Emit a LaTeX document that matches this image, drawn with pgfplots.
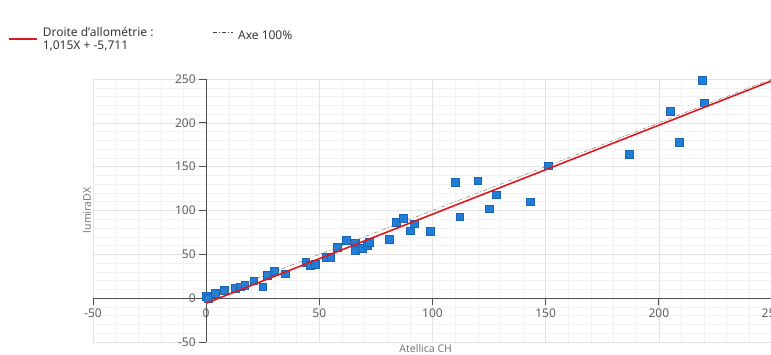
\documentclass[border=0pt]{standalone}
\usepackage{fontspec}
\setmainfont{Noto Sans}
\usepackage{pgfplots}
\pgfplotsset{compat=1.18}
\definecolor{ptblue}{RGB}{32,126,214}
\definecolor{ptblueedge}{RGB}{25,100,180}
\definecolor{regred}{RGB}{222,24,30}
\definecolor{axisgray}{RGB}{80,80,80}
\definecolor{labelgray}{RGB}{95,95,95}
\definecolor{namegray}{RGB}{120,120,120}
\definecolor{legendgray}{RGB}{55,55,55}
\definecolor{gridmajor}{RGB}{226,226,226}
\definecolor{gridminor}{RGB}{242,242,242}
\definecolor{diaggray}{RGB}{130,120,115}
\pgfplotsset{
  redleg/.style={legend image code/.code={\draw[regred, line width=1.6pt] (0pt,0pt) -- (28pt,0pt);}},
  grayleg/.style={legend image code/.code={\draw[black!75, line width=0.6pt, dash pattern=on 4pt off 2pt on 1pt off 2pt] (0pt,7pt) -- (20pt,7pt);}},
}
\begin{document}
\begin{tikzpicture}
\useasboundingbox (0,0) rectangle (771pt,355pt);
\begin{axis}[
  at={(93pt,13pt)}, anchor=south west,
  scale only axis, width=679pt, height=263pt,
  xmin=-50, xmax=250, ymin=-50, ymax=250,
  axis lines=middle,
  every inner x axis line/.append style={-},
  every inner y axis line/.append style={-},
  axis line style={draw=axisgray, line width=0.8pt},
  xtick={-50,0,50,100,150,200,250},
  ytick={-50,0,50,100,150,200,250},
  minor tick num=4,
  grid=both,
  major grid style={draw=gridmajor, line width=0.6pt},
  minor grid style={draw=gridminor, line width=0.5pt},
  tick style={draw=axisgray, line width=0.8pt},
  minor tick length=0pt,
  major tick length=7pt,
  tick align=outside,
  hide obscured x ticks=false, hide obscured y ticks=false,
  ticklabel style={font=\fontsize{12}{14}\selectfont, text=labelgray},
  /pgf/number format/assume math mode=true,
  xlabel={Atellica CH}, ylabel={lumiraDX},
  every axis x label/.style={at={(rel axis cs:0.49,0)}, anchor=base, yshift=-11pt, font=\fontsize{10.5}{12}\selectfont, text=namegray},
  every axis y label/.style={at={(rel axis cs:0,0.5)}, rotate=90, anchor=base, yshift=2pt, font=\fontsize{10.5}{12}\selectfont, text=namegray},
  clip mode=individual,
  legend columns=2,
  legend style={at={(rel axis cs:0,1)}, anchor=north west, xshift=-86pt, yshift=55pt,
    draw=none, fill=none, font=\fontsize{12}{13}\selectfont, text=legendgray,
    cells={align=left, anchor=west}, column sep=3pt, inner sep=1pt,
    /tikz/column 2/.style={column sep=57pt}},
]
\addplot[only marks, mark=square*, mark size=3.9pt, color=ptblue,
  mark options={draw=ptblueedge, fill=ptblue, line width=0.4pt}, forget plot] coordinates {
(0,2) (1,0) (4,6) (8,9) (13,11) (15,13) (17,15) (21,20) (25,13) (27,26)
(30,31) (35,28) (44,41) (46,38) (48,39) (53,47) (55,47) (58,58) (62,66) (66,63)
(66,55) (69,57) (71,60) (72,64) (81,67) (84,87) (87,91) (90,77) (92,85) (99,76)
(110,132) (112,93) (120,134) (125,102) (128,118) (143,110) (151,151) (187,164)
(205,213) (209,178) (219,249) (220,223)
};
\addplot[regred, line width=1.6pt, redleg] coordinates {(0,-5.711) (250,248.039)};
\addlegendentry{Droite d'allométrie :\\1,015X + -5,711}
\addplot[diaggray, line width=0.5pt, dash pattern=on 4pt off 2pt on 1pt off 2pt, grayleg] coordinates {(0,0) (250,250)};
\addlegendentry{\raisebox{7pt}{Axe 100\%}}
\end{axis}
\end{tikzpicture}
\end{document}
